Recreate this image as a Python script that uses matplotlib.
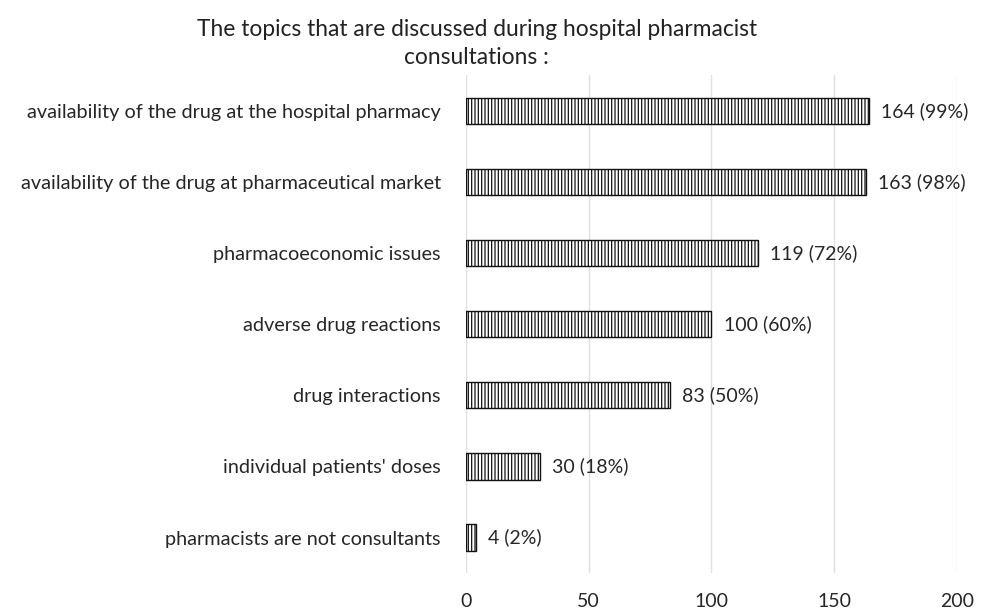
import matplotlib
matplotlib.use('Agg')
import matplotlib.pyplot as plt

# Data
categories = ['availability of the drug at the hospital pharmacy',
              'availability of the drug at pharmaceutical market',
              'pharmacoeconomic issues',
              'adverse drug reactions',
              'drug interactions',
              "individual patients' doses",
              'pharmacists are not consultants']
counts = [164, 163, 119, 100, 83, 30, 4]
percents = [99, 98, 72, 60, 50, 18, 2]
x_ticks = [0, 50, 100, 150, 200]

plt.rcParams['font.family'] = ['Lato', 'DejaVu Sans']
plt.rcParams['hatch.linewidth'] = 0.9

fig = plt.figure(figsize=(9.81, 6.11), dpi=100)
ax = fig.add_axes([0.475, 0.062, 0.5005, 0.815])

ypos = list(range(len(categories)))
bars = ax.barh(ypos, counts, height=0.37, color='white', edgecolor='#111111',
               linewidth=1.0, hatch='|||||', zorder=3)
ax.set_ylim(len(categories) - 0.5, -0.5)
ax.set_xlim(0, 200)
ax.set_xticks(x_ticks)
ax.set_yticks(ypos)
ax.set_yticklabels(categories, fontsize=14.3, color='#262626')
ax.tick_params(axis='x', labelsize=14, colors='#262626', length=0, pad=14)
ax.tick_params(axis='y', length=0, pad=18)
ax.grid(axis='x', color='#e0e0e0', linewidth=1, zorder=0)
for s in ax.spines.values():
    s.set_visible(False)

for b, c, p in zip(bars, counts, percents):
    ax.text(b.get_width() + 5, b.get_y() + b.get_height() / 2, f'{c} ({p}%)',
            va='center', ha='left', fontsize=14, color='#262626')

fig.text(0.486, 0.969, 'The topics that are discussed during hospital pharmacist\nconsultations :',
         ha='center', va='top', fontsize=16.4, color='#222222', linespacing=1.42)

fig.savefig('out.png', dpi=100)
